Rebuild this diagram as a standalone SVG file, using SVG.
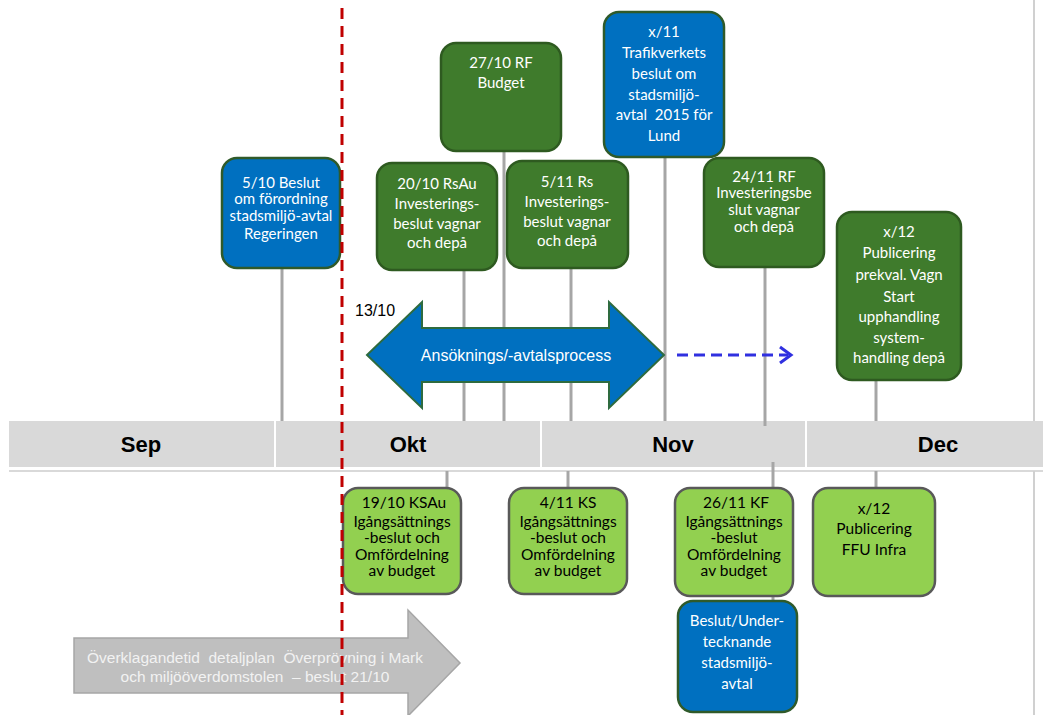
<svg xmlns="http://www.w3.org/2000/svg" width="1043" height="715" viewBox="0 0 1043 715">
<style>
.box{stroke-width:2.5}
.blue{fill:#0070c0;stroke:#2f5a2a}
.dg{fill:#3f7b2c;stroke:#2e5a20}
.lg{fill:#92d050;stroke:#595959}
.tw{font-family:Lato,"Open Sans",sans-serif;font-size:15px;fill:#ffffff;text-anchor:middle}
.tb{font-family:Lato,"Open Sans",sans-serif;font-size:15.5px;fill:#000000;text-anchor:middle}
.conn{stroke:#a6a6a6;stroke-width:3;fill:none}
.month{font-family:"Liberation Sans",Arial,sans-serif;font-size:22px;font-weight:bold;fill:#000;text-anchor:middle}
.ar{font-family:"Liberation Sans",Arial,sans-serif}
</style>
<rect x="0" y="0" width="1043" height="715" fill="#ffffff"/>

<!-- timeline bar -->
<g id="timeline">
  <rect x="9" y="421" width="1034" height="46" fill="#d9d9d9"/>
  <line x1="275" y1="421" x2="275" y2="467" stroke="#ffffff" stroke-width="2"/>
  <line x1="541" y1="421" x2="541" y2="467" stroke="#ffffff" stroke-width="2"/>
  <line x1="806" y1="421" x2="806" y2="467" stroke="#ffffff" stroke-width="2"/>
  <line x1="9" y1="471" x2="1043" y2="471" stroke="#d9d9d9" stroke-width="2"/>
  <text class="month" x="141" y="452">Sep</text>
  <text class="month" x="408" y="452">Okt</text>
  <text class="month" x="673" y="452">Nov</text>
  <text class="month" x="938" y="452">Dec</text>
</g>

<!-- connectors -->
<g id="connectors">
  <line class="conn" x1="282" y1="268" x2="282" y2="421"/>
  <line class="conn" x1="464" y1="270" x2="464" y2="421"/>
  <line class="conn" x1="504" y1="151" x2="504" y2="421"/>
  <line class="conn" x1="571" y1="268" x2="571" y2="421"/>
  <line class="conn" x1="665" y1="157" x2="665" y2="421"/>
  <line class="conn" x1="765" y1="267" x2="765" y2="426"/>
  <line class="conn" x1="876" y1="380" x2="876" y2="421"/>
  <line x1="1034" y1="0" x2="1034" y2="421" stroke="#d0d0d0" stroke-width="2"/>
  <line x1="1034" y1="471" x2="1034" y2="715" stroke="#d0d0d0" stroke-width="2"/>
  <line class="conn" x1="447" y1="471" x2="447" y2="488"/>
  <line class="conn" x1="568" y1="471" x2="568" y2="488"/>
  <line class="conn" x1="773" y1="462" x2="773" y2="488"/>
  <line class="conn" x1="773" y1="596" x2="773" y2="601"/>
  <line class="conn" x1="876" y1="471" x2="876" y2="488"/>
</g>

<!-- upper nodes -->
<g id="n-5-10">
  <rect class="box blue" x="222" y="158" width="118" height="110" rx="15"/>
  <text class="tw" x="281" y="188">5/10 Beslut</text>
  <text class="tw" x="281" y="204">om förordning</text>
  <text class="tw" x="281" y="221">stadsmiljö-avtal</text>
  <text class="tw" x="281" y="239">Regeringen</text>
</g>
<g id="n-27-10">
  <rect class="box dg" x="441" y="43" width="120" height="108" rx="15"/>
  <text class="tw" x="501" y="68">27/10 RF</text>
  <text class="tw" x="501" y="88">Budget</text>
</g>
<g id="n-20-10">
  <rect class="box dg" x="377" y="163" width="120" height="107" rx="15"/>
  <text class="tw" x="437" y="189">20/10 RsAu</text>
  <text class="tw" x="437" y="209">Investerings-</text>
  <text class="tw" x="437" y="229">beslut vagnar</text>
  <text class="tw" x="437" y="248">och depå</text>
</g>
<g id="n-5-11">
  <rect class="box dg" x="507" y="161" width="121" height="107" rx="15"/>
  <text class="tw" x="567" y="187">5/11 Rs</text>
  <text class="tw" x="567" y="207">Investerings-</text>
  <text class="tw" x="567" y="227">beslut vagnar</text>
  <text class="tw" x="567" y="246">och depå</text>
</g>
<g id="n-x-11">
  <rect class="box blue" x="604" y="12" width="120" height="145" rx="15"/>
  <text class="tw" x="664" y="37">x/11</text>
  <text class="tw" x="664" y="58">Trafikverkets</text>
  <text class="tw" x="664" y="79">beslut om</text>
  <text class="tw" x="664" y="100">stadsmiljö-</text>
  <text class="tw" x="664" y="120" xml:space="preserve">avtal  2015 för</text>
  <text class="tw" x="664" y="141">Lund</text>
</g>
<g id="n-24-11">
  <rect class="box dg" x="704" y="158" width="120" height="109" rx="15"/>
  <text class="tw" x="764" y="182">24/11 RF</text>
  <text class="tw" x="764" y="198">Investeringsbe</text>
  <text class="tw" x="764" y="215">slut vagnar</text>
  <text class="tw" x="764" y="232">och depå</text>
</g>
<g id="n-x-12-prekval">
  <rect class="box dg" x="837" y="212" width="124" height="168" rx="15"/>
  <text class="tw" x="899" y="237">x/12</text>
  <text class="tw" x="899" y="258">Publicering</text>
  <text class="tw" x="899" y="280">prekval. Vagn</text>
  <text class="tw" x="899" y="302">Start</text>
  <text class="tw" x="899" y="322">upphandling</text>
  <text class="tw" x="899" y="343">system-</text>
  <text class="tw" x="899" y="363">handling depå</text>
</g>

<!-- lower nodes -->
<g id="n-19-10">
  <rect class="box lg" x="343" y="488" width="118" height="106" rx="15"/>
  <text class="tb" x="404" y="508">19/10 KSAu</text>
  <text class="tb" x="402" y="527">Igångsättnings</text>
  <text class="tb" x="402" y="543">-beslut och</text>
  <text class="tb" x="402" y="560">Omfördelning</text>
  <text class="tb" x="402" y="576">av budget</text>
</g>
<g id="n-4-11">
  <rect class="box lg" x="509" y="488" width="118" height="106" rx="15"/>
  <text class="tb" x="568" y="508">4/11 KS</text>
  <text class="tb" x="568" y="527">Igångsättnings</text>
  <text class="tb" x="568" y="543">-beslut och</text>
  <text class="tb" x="568" y="560">Omfördelning</text>
  <text class="tb" x="568" y="576">av budget</text>
</g>
<g id="n-26-11">
  <rect class="box lg" x="675" y="488" width="118" height="108" rx="15"/>
  <text class="tb" x="736" y="508">26/11 KF</text>
  <text class="tb" x="734" y="527">Igångsättnings</text>
  <text class="tb" x="734" y="543">-beslut</text>
  <text class="tb" x="734" y="560">Omfördelning</text>
  <text class="tb" x="734" y="576">av budget</text>
</g>
<g id="n-x-12-ffu">
  <rect class="box lg" x="813" y="488" width="122" height="108" rx="15"/>
  <text class="tb" x="874" y="514">x/12</text>
  <text class="tb" x="874" y="534">Publicering</text>
  <text class="tb" x="874" y="555">FFU Infra</text>
</g>
<g id="n-beslut-under">
  <rect class="box blue" x="678" y="601" width="119" height="111" rx="15"/>
  <text class="tw" x="737" y="626">Beslut/Under-</text>
  <text class="tw" x="737" y="647">tecknande</text>
  <text class="tw" x="737" y="668">stadsmiljö-</text>
  <text class="tw" x="737" y="689">avtal</text>
</g>

<!-- process arrow -->
<g id="process-arrow">
  <polygon points="367,355 422,302 422,328 609,328 609,302 664,355 609,408 609,382 422,382 422,408" fill="#0070c0" stroke="#2e6b3f" stroke-width="2"/>
  <text class="ar" x="516" y="361" font-size="16" fill="#ffffff" text-anchor="middle">Ansöknings/-avtalsprocess</text>
</g>
<text class="ar" x="355" y="316" font-size="16" fill="#000">13/10</text>

<g id="dashed-arrow">
  <line x1="677" y1="355" x2="788" y2="355" stroke="#3030e0" stroke-width="3" stroke-dasharray="11 6"/>
  <polyline points="780,347 791,355 780,363" fill="none" stroke="#3030e0" stroke-width="3"/>
</g>

<!-- gray arrow -->
<g id="appeal-arrow">
  <polygon points="74,638 408,638 408,610 460,663 408,716 408,693 74,693" fill="#bfbfbf" stroke="#a6a6a6" stroke-width="1.5"/>
  <text class="ar" x="255" y="663" font-size="15.5" fill="#f2f2f2" text-anchor="middle" xml:space="preserve">Överklagandetid  detaljplan  Överprövning i Mark</text>
  <text class="ar" x="255" y="682" font-size="15.5" fill="#f2f2f2" text-anchor="middle" xml:space="preserve">och miljööverdomstolen  – beslut 21/10</text>
</g>

<!-- today line -->
<line id="today" x1="342" y1="8" x2="342" y2="715" stroke="#c00000" stroke-width="3" stroke-dasharray="11 7"/>
</svg>
